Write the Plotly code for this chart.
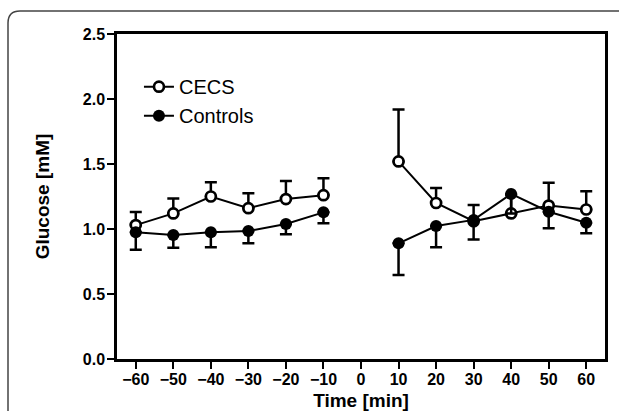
import plotly.graph_objects as go

# ---- data ----
time_min = [-60, -50, -40, -30, -20, -10, 0, 10, 20, 30, 40, 50, 60]
cecs_mean = [1.03, 1.12, 1.25, 1.16, 1.23, 1.26, None, 1.52, 1.20, 1.06, 1.12, 1.18, 1.15]
cecs_err_up = [0.10, 0.115, 0.11, 0.115, 0.14, 0.13, None, 0.40, 0.115, 0.125, 0.14, 0.175, 0.14]
ctrl_mean = [0.975, 0.954, 0.975, 0.985, 1.038, 1.128, None, 0.89, 1.023, 1.07, 1.27, 1.133, 1.048]
ctrl_err_down = [0.135, 0.098, 0.116, 0.095, 0.078, 0.084, None, 0.244, 0.164, 0.15, 0.15, 0.128, 0.081]
x_ticks = [-60, -50, -40, -30, -20, -10, 0, 10, 20, 30, 40, 50, 60]
y_ticks = [0.0, 0.5, 1.0, 1.5, 2.0, 2.5]

zeros_c = [0 if v is not None else None for v in cecs_mean]
zeros_k = [0 if v is not None else None for v in ctrl_mean]

FONT = "Liberation Sans, Arial, sans-serif"

fig = go.Figure()
fig.add_trace(go.Scatter(
    x=time_min, y=cecs_mean, name="CECS", mode="lines+markers",
    connectgaps=False,
    line=dict(color="black", width=2),
    marker=dict(symbol="circle", size=10, color="white", line=dict(color="black", width=2.7)),
    error_y=dict(type="data", symmetric=False, array=cecs_err_up, arrayminus=zeros_c,
                 color="black", thickness=2.5, width=6),
))
fig.add_trace(go.Scatter(
    x=time_min, y=ctrl_mean, name="Controls", mode="lines+markers",
    connectgaps=False,
    line=dict(color="black", width=2),
    marker=dict(symbol="circle", size=12, color="black", line=dict(color="black", width=0)),
    error_y=dict(type="data", symmetric=False, array=zeros_k, arrayminus=ctrl_err_down,
                 color="black", thickness=2.5, width=6),
))

# rounded frame around the figure (decoration)
L, R, T, B = 117, 605, 34, 359
def px(x):
    return (x - L) / (R - L)
def py(y):
    return (B - y) / (B - T)
fx, fy, rad = 8, 11, 12
path = (f"M {px(fx)} {py(430)} L {px(fx)} {py(fy + rad)} "
        f"Q {px(fx)} {py(fy)} {px(fx + rad)} {py(fy)} L {px(640)} {py(fy)}")

fig.update_layout(
    width=619, height=411,
    margin=dict(l=L, r=619 - R, t=T, b=411 - B, autoexpand=False),
    paper_bgcolor="white", plot_bgcolor="white",
    font=dict(family=FONT, color="black"),
    showlegend=True,
    legend=dict(x=0.045, y=0.898, xanchor="left", yanchor="top",
                font=dict(size=20, family=FONT, color="black"),
                bgcolor="rgba(0,0,0,0)", borderwidth=0),
    shapes=[dict(type="path", path=path, xref="paper", yref="paper",
                 line=dict(color="#444444", width=1.5), layer="above")],
)
fig.update_xaxes(
    range=[-65, 65], tickvals=x_ticks, ticks="outside", ticklen=7, tickwidth=2,
    tickcolor="black", showline=True, linewidth=2.5, linecolor="black", mirror=True,
    showgrid=False, zeroline=False, automargin=False, ticklabelstandoff=-3,
    tickfont=dict(size=16, family=FONT, weight="bold"),
    title=dict(text="Time [min]", font=dict(size=19, family=FONT, weight="bold"), standoff=7),
)
fig.update_yaxes(
    range=[0, 2.5], tickvals=y_ticks, tickformat=".1f", ticks="outside", ticklen=7, tickwidth=2,
    tickcolor="black", showline=True, linewidth=2.5, linecolor="black", mirror=True,
    showgrid=False, zeroline=False, automargin=False, ticklabelstandoff=-1,
    tickfont=dict(size=16, family=FONT, weight="bold"),
    title=dict(text="Glucose [mM]", font=dict(size=19, family=FONT, weight="bold"), standoff=29),
)

fig.write_html("out.html", config={"displayModeBar": False},
               post_script="document.body.style.margin='0';")
